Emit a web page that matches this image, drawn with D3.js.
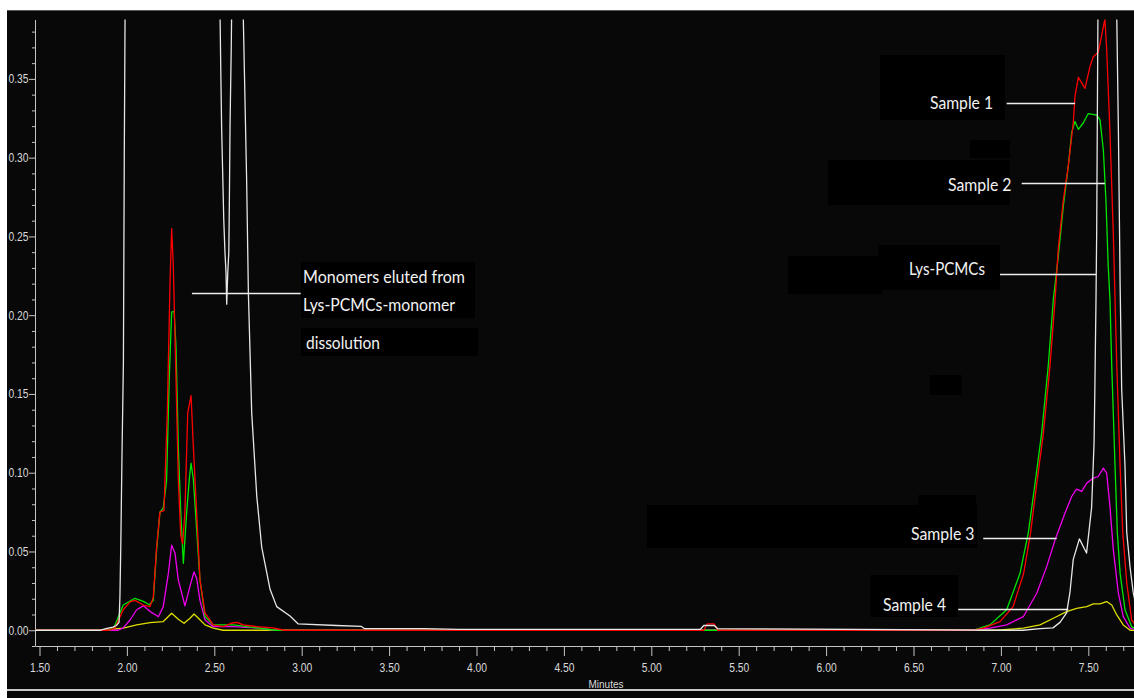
<!DOCTYPE html>
<html>
<head>
<meta charset="utf-8">
<script src="https://cdn.jsdelivr.net/npm/d3@7"></script>
<style>
  html, body { margin: 0; padding: 0; background: #fff; }
  svg { display: block; }
</style>
</head>
<body>
<div id="chart"></div>
<script>
// traces: [minutes, absorbance]
const lysPCMCs = [
  [1.47, 0], [1.85, 0], [1.88, 0.001], [1.92, 0.002], [1.94, 0.003], [1.955, 0.005],
  [1.96, 0.021], [1.965, 0.053], [1.972, 0.112], [1.98, 0.17], [1.985, 0.30], [1.99, 0.40],
  [2.0, 0.8], [2.3, 1.5], [2.5, 0.8], [2.533, 0.39], [2.537, 0.356], [2.542, 0.319],
  [2.548, 0.29], [2.554, 0.261], [2.561, 0.24], [2.567, 0.227], [2.571, 0.207], [2.577, 0.227],
  [2.583, 0.24], [2.586, 0.27], [2.59, 0.32], [2.597, 0.37], [2.6, 0.40], [2.63, 0.6],
  [2.66, 0.41], [2.666, 0.388], [2.685, 0.286], [2.695, 0.214], [2.714, 0.138], [2.743, 0.085],
  [2.771, 0.053], [2.819, 0.026], [2.857, 0.015], [2.933, 0.009], [2.98, 0.004], [3.2, 0.003],
  [3.34, 0.0025], [3.36, 0.001], [3.7, 0.001], [3.9, 0.0005], [5.28, 0.0005], [5.3, 0.003],
  [5.36, 0.003], [5.38, 0.001], [7.0, 0], [7.126, 0], [7.224, 0.001], [7.298, 0.0015],
  [7.338, 0.005], [7.376, 0.011], [7.395, 0.024], [7.414, 0.045], [7.449, 0.058], [7.49, 0.049],
  [7.519, 0.078], [7.533, 0.119], [7.538, 0.157], [7.544, 0.21], [7.548, 0.253], [7.555, 0.39],
  [7.6, 0.8], [7.66, 0.39], [7.663, 0.388], [7.672, 0.319], [7.682, 0.22], [7.691, 0.153],
  [7.71, 0.104], [7.72, 0.062], [7.739, 0.04], [7.757, 0.024], [7.78, 0.012]
];

const sample1 = [
  [1.47, 0], [1.9, 0], [1.932, 0.0015], [1.979, 0.013], [2.018, 0.018], [2.046, 0.019],
  [2.094, 0.016], [2.132, 0.015], [2.151, 0.021], [2.17, 0.053], [2.189, 0.075], [2.212, 0.076],
  [2.231, 0.138], [2.247, 0.222], [2.256, 0.255], [2.265, 0.233], [2.281, 0.159], [2.294, 0.096],
  [2.308, 0.06], [2.319, 0.055], [2.332, 0.075], [2.348, 0.138], [2.367, 0.149], [2.38, 0.117],
  [2.399, 0.075], [2.418, 0.032], [2.447, 0.011], [2.494, 0.0034], [2.552, 0.0023], [2.6, 0.0046],
  [2.63, 0.005], [2.666, 0.0034], [2.743, 0.0023], [2.836, 0.0015], [2.9, 0], [5.3, 0],
  [5.32, 0.004], [5.36, 0.004], [5.38, 0], [6.84, 0], [6.9, 0.0013], [6.995, 0.0055],
  [7.07, 0.015], [7.13, 0.036], [7.17, 0.062], [7.205, 0.093], [7.243, 0.125], [7.281, 0.168],
  [7.31, 0.21], [7.328, 0.242], [7.357, 0.273], [7.386, 0.295], [7.414, 0.322], [7.424, 0.339],
  [7.443, 0.351], [7.481, 0.344], [7.51, 0.358], [7.529, 0.364], [7.557, 0.367], [7.595, 0.388],
  [7.605, 0.369], [7.624, 0.316], [7.643, 0.252], [7.663, 0.168], [7.682, 0.104], [7.697, 0.062],
  [7.72, 0.03], [7.748, 0.0065], [7.78, 0.002]
];

const sample2 = [
  [1.47, 0], [1.9, 0], [1.925, 0.0015], [1.979, 0.016], [2.046, 0.0203], [2.094, 0.0183],
  [2.128, 0.0162], [2.151, 0.019], [2.17, 0.051], [2.189, 0.075], [2.208, 0.0775], [2.227, 0.095],
  [2.242, 0.159], [2.256, 0.202], [2.27, 0.2025], [2.281, 0.18], [2.294, 0.117], [2.308, 0.075],
  [2.323, 0.0425], [2.342, 0.075], [2.357, 0.096], [2.367, 0.106], [2.38, 0.096], [2.399, 0.064],
  [2.418, 0.032], [2.447, 0.0087], [2.494, 0.0034], [2.609, 0.0034], [2.685, 0.0023], [2.743, 0.0015],
  [2.85, 0], [6.84, 0], [6.937, 0.0034], [7.033, 0.013], [7.109, 0.036], [7.157, 0.062],
  [7.195, 0.093], [7.233, 0.125], [7.271, 0.168], [7.3, 0.21], [7.328, 0.237], [7.357, 0.269],
  [7.386, 0.295], [7.405, 0.316], [7.424, 0.323], [7.443, 0.318], [7.471, 0.322], [7.5, 0.328],
  [7.548, 0.327], [7.567, 0.324], [7.586, 0.305], [7.601, 0.273], [7.614, 0.231], [7.624, 0.21],
  [7.634, 0.168], [7.653, 0.104], [7.666, 0.062], [7.682, 0.036], [7.71, 0.013], [7.748, 0.0023],
  [7.78, 0]
];

const sample3 = [
  [1.47, 0], [1.95, 0], [1.979, 0.0015], [2.018, 0.0065], [2.056, 0.013], [2.094, 0.0155],
  [2.132, 0.012], [2.18, 0.0086], [2.208, 0.015], [2.237, 0.036], [2.256, 0.054], [2.275, 0.049],
  [2.294, 0.032], [2.332, 0.0155], [2.361, 0.028], [2.384, 0.037], [2.399, 0.033], [2.418, 0.019],
  [2.447, 0.0065], [2.494, 0.0023], [2.609, 0.0023], [2.743, 0.0015], [2.85, 0], [6.84, 0],
  [6.937, 0.0013], [7.033, 0.0034], [7.128, 0.0086], [7.205, 0.0235], [7.262, 0.0404], [7.31, 0.0574],
  [7.367, 0.0744], [7.405, 0.0849], [7.433, 0.0896], [7.462, 0.0881], [7.491, 0.0934], [7.529, 0.0966],
  [7.557, 0.0976], [7.586, 0.1029], [7.605, 0.0997], [7.624, 0.0785], [7.643, 0.0512], [7.672, 0.0235],
  [7.7, 0.0086], [7.739, 0.0013], [7.78, 0]
];

const sample4 = [
  [1.47, 0], [1.85, 0], [1.979, 0.0013], [2.056, 0.0034], [2.132, 0.0048], [2.208, 0.0055],
  [2.256, 0.0108], [2.294, 0.007], [2.327, 0.0044], [2.361, 0.0076], [2.384, 0.0103], [2.409, 0.0076],
  [2.447, 0.0034], [2.494, 0.0013], [2.55, 0], [6.976, 0], [7.128, 0.0013], [7.224, 0.0034],
  [7.3, 0.0076], [7.376, 0.0118], [7.433, 0.0139], [7.491, 0.015], [7.529, 0.0167], [7.567, 0.0167],
  [7.605, 0.0182], [7.634, 0.016], [7.663, 0.0097], [7.7, 0.0034], [7.739, 0], [7.78, 0]
];

const xTicks = [1.5, 2.0, 2.5, 3.0, 3.5, 4.0, 4.5, 5.0, 5.5, 6.0, 6.5, 7.0, 7.5];
const yTicks = [0.00, 0.05, 0.10, 0.15, 0.20, 0.25, 0.30, 0.35];
const xTitle = 'Minutes';

// leader lines in data units: label, start minute, end minute, absorbance
const callouts = [
  { label: 'Monomers', t0: 2.372, t1: 2.994, v: 0.2138 },
  { label: 'Sample 1', t0: 7.033, t1: 7.424, v: 0.3344 },
  { label: 'Sample 2', t0: 7.119, t1: 7.595, v: 0.2836 },
  { label: 'Lys-PCMCs', t0: 6.995, t1: 7.544, v: 0.2258 },
  { label: 'Sample 3', t0: 6.899, t1: 7.319, v: 0.0582 },
  { label: 'Sample 4', t0: 6.756, t1: 7.386, v: 0.0132 }
];

const width = 1134, height = 698;
const plotLeft = 35, plotRight = 1134, plotTop = 19.5, plotBottom = 646;

const svg = d3.select('#chart').append('svg')
  .attr('width', width)
  .attr('height', height);

// frame: white margin top/left, near-black panel
svg.append('rect').attr('width', width).attr('height', height).attr('fill', '#fff');
svg.append('rect').attr('x', 7).attr('y', 10).attr('width', width - 7).attr('height', height - 10).attr('fill', '#080808');
svg.append('line').attr('x1', 7).attr('x2', width).attr('y1', 10.5).attr('y2', 10.5).attr('stroke', '#5a5a5a');
svg.append('line').attr('x1', 7).attr('x2', width).attr('y1', 690).attr('y2', 690).attr('stroke', '#c8c8c8').attr('stroke-width', 2);

// pasted-over black patches from the original figure
const patches = [
  [880, 55, 125, 65], [828, 160, 182, 45], [970, 140, 40, 18], [788, 256, 94, 38], [878, 245, 122, 45],
  [301, 262, 174, 56], [301, 328, 177, 28], [930, 375, 32, 20], [647, 505, 330, 43], [918, 495, 58, 14],
  [870, 575, 88, 42]
];
svg.append('g').selectAll('rect').data(patches).enter().append('rect')
  .attr('x', d => d[0]).attr('y', d => d[1]).attr('width', d => d[2]).attr('height', d => d[3])
  .attr('fill', '#000');

// scales: 1.50 min at x=39.5, 7.50 min at x=1088.3
const x = d3.scaleLinear().domain([1.5, 7.5]).range([39.5, 1088.3]);
x.domain([x.invert(plotLeft), x.invert(plotRight)]).range([plotLeft, plotRight]);
const y = d3.scaleLinear().domain([-0.01, 0.3877]).range([plotBottom, plotTop]);

const axisColor = '#c4c4c4';
const labelColor = '#d9d9d9';
const fmt = d3.format('.2f');

// minor ticks
const minorX = d3.range(15, 78).map(i => i / 10).filter(d => Math.round(d * 10) % 5 !== 0);
const minorY = d3.range(-1, 39).map(i => i / 100).filter(d => Math.round(d * 100) % 5 !== 0);

const gxMinor = svg.append('g').attr('transform', `translate(0,${plotBottom})`)
  .call(d3.axisBottom(x).tickValues(minorX).tickSize(5).tickSizeOuter(0).tickFormat(''));
gxMinor.select('.domain').remove();

const gx = svg.append('g').attr('transform', `translate(0,${plotBottom})`)
  .call(d3.axisBottom(x).tickValues(xTicks).tickSize(10).tickSizeOuter(0).tickFormat(fmt));
gx.selectAll('text')
  .attr('y', 25.5).attr('dy', 0)
  .attr('textLength', 20).attr('lengthAdjust', 'spacingAndGlyphs');

const gyMinor = svg.append('g').attr('transform', `translate(${plotLeft},0)`)
  .call(d3.axisLeft(y).tickValues(minorY).tickSize(3).tickSizeOuter(0).tickFormat(''));
gyMinor.select('.domain').remove();

const gy = svg.append('g').attr('transform', `translate(${plotLeft},0)`)
  .call(d3.axisLeft(y).tickValues(yTicks).tickSize(6).tickSizeOuter(0).tickPadding(0.5).tickFormat(fmt));
gy.selectAll('text')
  .attr('textLength', 20).attr('lengthAdjust', 'spacingAndGlyphs');

svg.selectAll('.domain, .tick line').attr('stroke', axisColor);
svg.selectAll('.tick text')
  .attr('fill', labelColor)
  .style('font-family', '"Liberation Sans", Arial, sans-serif')
  .style('font-size', '12.5px');

svg.append('text')
  .attr('x', 606).attr('y', 687.5)
  .attr('text-anchor', 'middle')
  .attr('fill', labelColor)
  .attr('textLength', 35).attr('lengthAdjust', 'spacingAndGlyphs')
  .style('font-family', '"Liberation Sans", Arial, sans-serif')
  .style('font-size', '11.5px')
  .text(xTitle);

// traces
svg.append('clipPath').attr('id', 'plot-clip')
  .append('rect').attr('x', plotLeft).attr('y', plotTop)
  .attr('width', plotRight - plotLeft).attr('height', plotBottom - plotTop);

const line = d3.line().x(d => x(d[0])).y(d => y(d[1]));
const traces = [
  { data: sample4, color: '#dede00' },
  { data: sample3, color: '#ee00ee' },
  { data: sample2, color: '#00e600' },
  { data: sample1, color: '#ff0000' },
  { data: lysPCMCs, color: '#e6e6e6' }
];
svg.append('g').attr('clip-path', 'url(#plot-clip)')
  .selectAll('path').data(traces).enter().append('path')
  .attr('d', d => line(d.data))
  .attr('fill', 'none')
  .attr('stroke', d => d.color)
  .attr('stroke-width', 1.3)
  .attr('stroke-linejoin', 'round');

// leader lines
svg.append('g').selectAll('line').data(callouts).enter().append('line')
  .attr('x1', d => x(d.t0)).attr('x2', d => x(d.t1))
  .attr('y1', d => y(d.v)).attr('y2', d => y(d.v))
  .attr('stroke', '#eeeeee').attr('stroke-width', 1.5);

// annotation text (pixel layout)
const notes = [
  { text: 'Monomers eluted from', x: 303, y: 283, w: 162 },
  { text: 'Lys-PCMCs-monomer', x: 303, y: 311, w: 152 },
  { text: 'dissolution', x: 306, y: 349, w: 74 },
  { text: 'Sample 1', x: 930, y: 109, w: 63 },
  { text: 'Sample 2', x: 948, y: 190.5, w: 63.5 },
  { text: 'Lys-PCMCs', x: 909, y: 275, w: 76 },
  { text: 'Sample 3', x: 911, y: 540, w: 63.5 },
  { text: 'Sample 4', x: 883, y: 611, w: 63 }
];
svg.append('g').selectAll('text').data(notes).enter().append('text')
  .attr('x', d => d.x).attr('y', d => d.y)
  .attr('textLength', d => d.w).attr('lengthAdjust', 'spacingAndGlyphs')
  .attr('fill', '#f2f2f2')
  .style('font-family', 'Lato, "Open Sans", sans-serif')
  .style('font-size', '17.5px')
  .text(d => d.text);
</script>
</body>
</html>
